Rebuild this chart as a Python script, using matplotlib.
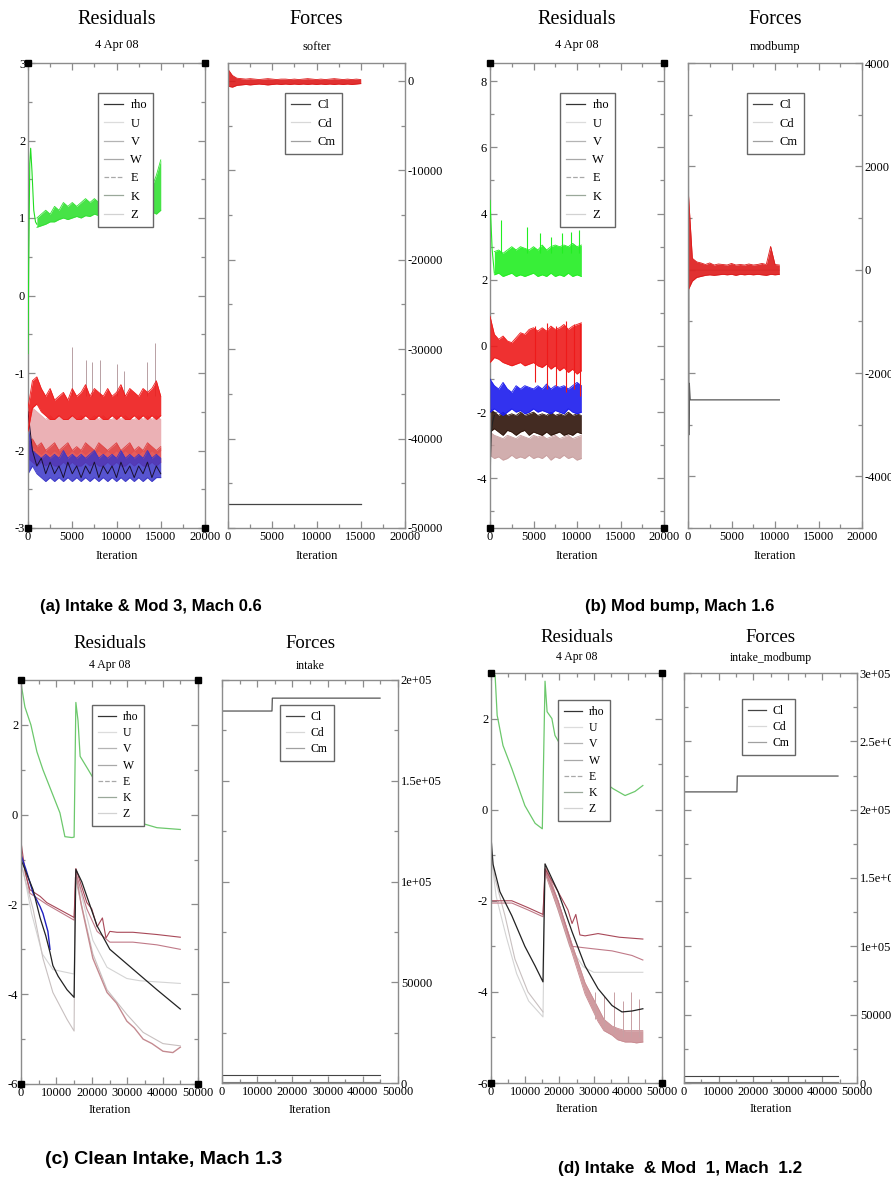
import matplotlib.pyplot as plt
from matplotlib.lines import Line2D
from matplotlib.ticker import MultipleLocator, FuncFormatter

plt.rcParams['font.family'] = ['Liberation Serif', 'DejaVu Serif']
plt.rcParams['axes.unicode_minus'] = False

W, H = 891, 1179

# ---------------- (a) Intake & Mod 3, Mach 0.6 ----------------
a_iter = [0, 500, 1000, 1500, 2000, 2500, 3000, 3500, 4000, 4500,
          5000, 5500, 6000, 6500, 7000, 7500, 8000, 8500, 9000, 9500,
          10000, 10500, 11000, 11500, 12000, 12500, 13000, 13500, 14000, 14500,
          15000]
a_v_hi = [-1.45, -1.1, -1.05, -1.2, -1.3, -1.2, -1.35, -1.3, -1.25, -1.35,
          -1.2, -1.3, -1.25, -1.15, -1.3, -1.2, -1.25, -1.3, -1.2, -1.3,
          -1.25, -1.15, -1.3, -1.2, -1.25, -1.3, -1.2, -1.25, -1.2, -1.1,
          -1.3]
a_v_lo = [-1.75, -1.45, -1.4, -1.5, -1.55, -1.6, -1.6, -1.55, -1.6, -1.6,
          -1.55, -1.6, -1.6, -1.55, -1.6, -1.6, -1.55, -1.6, -1.6, -1.55,
          -1.6, -1.55, -1.6, -1.6, -1.55, -1.6, -1.55, -1.6, -1.55, -1.6,
          -1.55]
a_u_hi = [-1.65, -1.45, -1.5, -1.55, -1.6, -1.55, -1.6, -1.55, -1.6, -1.6,
          -1.55, -1.6, -1.55, -1.6, -1.6, -1.55, -1.6, -1.55, -1.6, -1.6,
          -1.55, -1.6, -1.55, -1.6, -1.6, -1.55, -1.6, -1.55, -1.6, -1.55,
          -1.6]
a_u_lo = [-2.0, -1.95, -2.0, -2.05, -2.0, -2.05, -2.0, -2.05, -2.0, -2.05,
          -2.0, -2.05, -2.0, -2.05, -2.0, -2.05, -2.0, -2.05, -2.0, -2.05,
          -2.0, -2.05, -2.0, -2.05, -2.0, -2.05, -2.0, -2.05, -2.0, -2.05,
          -2.0]
a_e_hi = [-1.9, -1.85, -1.95, -1.9, -2.0, -1.95, -1.9, -2.0, -1.95, -1.9,
          -2.0, -1.95, -2.0, -1.9, -1.95, -2.0, -1.9, -1.95, -2.0, -1.95,
          -1.9, -2.0, -1.95, -1.9, -2.0, -1.95, -2.0, -1.9, -1.95, -2.0,
          -1.95]
a_e_lo = [-2.1, -2.15, -2.2, -2.15, -2.2, -2.15, -2.2, -2.2, -2.15, -2.2,
          -2.15, -2.2, -2.2, -2.15, -2.2, -2.15, -2.2, -2.2, -2.15, -2.2,
          -2.15, -2.2, -2.2, -2.15, -2.2, -2.15, -2.2, -2.2, -2.15, -2.2,
          -2.15]
a_w_hi = [-1.7, -2.0, -2.05, -2.1, -2.05, -2.1, -2.05, -2.1, -2.0, -2.1,
          -2.05, -2.1, -2.05, -2.1, -2.05, -2.0, -2.1, -2.05, -2.1, -2.05,
          -2.1, -2.0, -2.1, -2.05, -2.1, -2.05, -2.1, -2.0, -2.1, -2.05,
          -2.1]
a_w_lo = [-2.3, -2.2, -2.3, -2.35, -2.4, -2.35, -2.4, -2.35, -2.4, -2.35,
          -2.4, -2.35, -2.4, -2.35, -2.4, -2.35, -2.4, -2.35, -2.4, -2.35,
          -2.4, -2.35, -2.4, -2.35, -2.4, -2.35, -2.4, -2.35, -2.4, -2.35,
          -2.35]
a_rho = [-1.5, -2.0, -2.2, -2.1, -2.3, -2.15, -2.3, -2.2, -2.35, -2.15,
         -2.3, -2.2, -2.35, -2.2, -2.3, -2.15, -2.35, -2.2, -2.3, -2.2,
         -2.35, -2.15, -2.3, -2.2, -2.35, -2.2, -2.3, -2.15, -2.35, -2.2,
         -2.3]
a_z_spike_iter = [4970, 6550, 7230, 8140, 10050, 10850, 13450, 14350]
a_z_spike_base = [-1.3, -1.3, -1.3, -1.3, -1.3, -1.3, -1.3, -1.3]
a_z_spike_top = [-0.67, -0.83, -0.86, -0.83, -0.89, -0.98, -0.86, -0.61]
a_k_start_iter = [0, 80, 200, 300, 450, 650, 850, 1000]
a_k_start = [-0.75, 0.4, 1.7, 1.9, 1.6, 1.1, 0.95, 0.92]
a_k_hi = [1.0, 1.05, 1.1, 1.05, 1.15, 1.1, 1.2, 1.15, 1.2, 1.15,
          1.2, 1.25, 1.2, 1.25, 1.2, 1.25, 1.3, 1.2, 1.25, 1.3,
          1.25, 1.3, 1.25, 1.3, 1.3, 1.35, 1.4, 1.55, 1.75]
a_k_lo = [0.88, 0.9, 0.92, 0.95, 0.95, 0.98, 1.0, 0.98, 1.0, 1.02,
          1.0, 1.03, 1.02, 1.05, 1.03, 1.05, 1.05, 1.05, 1.07, 1.05,
          1.08, 1.05, 1.08, 1.1, 1.08, 1.1, 1.08, 1.05, 1.1]
a_cm_hi = [1300, 600, 300, 250, 200, 250, 200, 150, 200, 250,
           200, 150, 200, 200, 150, 200, 150, 200, 250, 200,
           150, 200, 150, 200, 250, 200, 150, 200, 150, 200,
           150]
a_cm_lo = [-600, -700, -500, -450, -400, -450, -400, -350, -400, -450,
           -400, -350, -400, -350, -400, -350, -400, -350, -400, -350,
           -400, -350, -400, -350, -400, -350, -400, -350, -400, -350,
           -300]
a_cl_iter = [0, 15000]
a_cl = [-47300, -47300]

# ---------------- (b) Mod bump, Mach 1.6 ----------------
b_iter = [0, 500, 1000, 1500, 2000, 2500, 3000, 3500, 4000, 4500,
          5000, 5500, 6000, 6500, 7000, 7500, 8000, 8500, 9000, 9500,
          10000, 10500]
b_k_start_iter = [0, 100, 250, 500]
b_k_start = [4.4, 3.8, 2.9, 2.2]
b_k_hi = [2.85, 2.9, 2.8, 2.9, 3.0, 2.9, 3.0, 2.95, 2.9, 3.0,
          2.9, 3.05, 2.9, 3.0, 3.05, 3.0, 3.05, 3.0, 3.1, 3.0,
          3.05]
b_k_lo = [2.15, 2.2, 2.1, 2.15, 2.2, 2.1, 2.15, 2.1, 2.15, 2.2,
          2.1, 2.15, 2.1, 2.2, 2.1, 2.15, 2.1, 2.2, 2.1, 2.15,
          2.1]
b_k_spike_iter = [1300, 4300, 5800, 7000, 8300, 9300, 10200]
b_k_spike_top = [3.8, 3.6, 3.4, 3.3, 3.4, 3.45, 3.5]
b_k_spike_base = [2.8, 2.8, 2.8, 2.8, 2.8, 2.8, 2.8]
b_v_hi = [0.9, 0.35, 0.2, 0.3, 0.15, 0.1, 0.25, 0.4, 0.35, 0.5,
          0.55, 0.45, 0.55, 0.45, 0.6, 0.5, 0.55, 0.65, 0.5, 0.6,
          0.65, 0.7]
b_v_lo = [-0.5, -0.35, -0.4, -0.5, -0.55, -0.6, -0.55, -0.5, -0.6, -0.55,
          -0.5, -0.6, -0.65, -0.55, -0.7, -0.6, -0.75, -0.65, -0.8, -0.7,
          -0.85, -0.75]
b_v_spike_iter = [5200, 6600, 7600, 8700, 9600, 10400]
b_v_spike_low = [-1.1, -1.3, -1.2, -1.4, -1.3, -1.5]
b_v_spike_high = [0.6, 0.7, 0.6, 0.75, 0.65, 0.7]
b_w_hi = [-1.0, -1.2, -1.3, -1.1, -1.3, -1.4, -1.2, -1.3, -1.2, -1.25,
          -1.3, -1.2, -1.3, -1.15, -1.3, -1.2, -1.25, -1.2, -1.3, -1.2,
          -1.1, -1.2]
b_w_lo = [-2.0, -1.9, -2.0, -2.1, -2.0, -1.9, -2.0, -1.95, -2.05, -2.0,
          -1.9, -2.0, -1.95, -2.0, -2.05, -1.95, -2.0, -2.05, -1.9, -2.0,
          -2.05, -2.0]
b_rho_hi = [-1.9, -2.0, -2.1, -2.0, -2.1, -2.05, -2.1, -2.0, -2.1, -2.05,
            -2.0, -2.1, -2.05, -2.1, -2.0, -2.1, -2.05, -2.1, -2.0, -2.1,
            -2.05, -2.1]
b_rho_lo = [-2.6, -2.5, -2.6, -2.7, -2.55, -2.6, -2.7, -2.6, -2.55, -2.7,
            -2.6, -2.65, -2.7, -2.6, -2.7, -2.65, -2.6, -2.7, -2.65, -2.7,
            -2.6, -2.65]
b_rho_start_iter = [0, 60, 150, 300, 500]
b_rho_start = [-4.9, -3.4, -2.6, -2.3, -2.1]
b_e_hi = [-2.6, -2.7, -2.75, -2.8, -2.7, -2.75, -2.8, -2.7, -2.75, -2.8,
          -2.7, -2.75, -2.7, -2.8, -2.75, -2.7, -2.8, -2.75, -2.7, -2.8,
          -2.75, -2.7]
b_e_lo = [-3.3, -3.4, -3.35, -3.45, -3.4, -3.3, -3.4, -3.35, -3.4, -3.3,
          -3.4, -3.35, -3.4, -3.3, -3.45, -3.35, -3.4, -3.3, -3.4, -3.35,
          -3.45, -3.4]
b_cm_hi = [1600, 220, 150, 130, 100, 130, 90, 110, 100, 90,
           120, 90, 100, 90, 110, 90, 100, 120, 100, 450,
           100, 90]
b_cm_lo = [-400, -220, -150, -130, -110, -100, -110, -100, -90, -100,
           -90, -110, -90, -100, -90, -100, -90, -100, -110, -90,
           -100, -90]
b_cl_iter = [0, 40, 90, 150, 250, 10500]
b_cl = [-4950, 3300, -3200, -2200, -2520, -2520]
b_cd_iter = [0, 60, 120, 10500]
b_cd = [3000, -4950, -10, -10]

# ---------------- (c) Clean Intake, Mach 1.3 ----------------
c_k_iter = [0, 1100, 2800, 4500, 6200, 8200, 11000, 12400, 14400, 15000,
            15500, 16100, 16700, 19000, 22000, 29400, 33600, 38400, 45000]
c_k = [2.93, 2.4, 2.0, 1.4, 1.0, 0.6, 0.04, -0.49, -0.51, -0.5,
       2.5, 2.1, 1.3, 1.0, 0.6, 0.0, -0.18, -0.29, -0.33]
c_rho_iter = [0, 3400, 5400, 7000, 8200, 9000, 10500, 13000, 15000,
              15500, 17200, 21500, 25100, 31600, 38400, 45000]
c_rho = [-1.0, -1.67, -2.3, -2.7, -3.07, -3.36, -3.6, -3.9, -4.07,
         -1.22, -1.5, -2.48, -3.0, -3.44, -3.9, -4.33]
c_u_iter = [0, 3400, 6200, 9000, 13000, 15000, 15300, 20300, 24300, 29900,
            34500, 40100, 45000]
c_u = [-1.1, -2.1, -3.2, -3.96, -4.56, -4.82, -1.4, -3.1, -3.9, -4.45,
       -4.85, -5.1, -5.15]
c_e_iter = [15500, 17000, 20300, 24300, 27000, 29900, 32000, 34500, 37000, 40100,
            42900, 45000]
c_e = [-1.3, -2.0, -3.2, -3.96, -4.2, -4.6, -4.75, -5.0, -5.1, -5.27,
       -5.3, -5.18]
c_v_iter = [0, 1200, 2500, 5400, 7300, 15000, 15500, 18600, 20000, 21500,
            23000, 24000, 25100, 27100, 31600, 38400, 45000]
c_v = [-0.6, -1.3, -1.67, -1.82, -1.96, -2.29, -1.2, -1.96, -2.1, -2.5,
       -2.3, -2.75, -2.6, -2.62, -2.62, -2.67, -2.73]
c_v2_iter = [0, 2500, 5400, 7300, 15000, 15500, 18600, 21500, 25100, 31600,
             38400, 45000]
c_v2 = [-0.8, -1.75, -1.9, -2.0, -2.35, -1.3, -2.1, -2.6, -2.84, -2.84,
        -2.9, -3.0]
c_w_iter = [0, 1400, 3400, 5400, 6200, 7600, 8200]
c_w = [-0.9, -1.22, -1.74, -2.05, -2.2, -2.6, -3.0]
c_z_iter = [0, 3000, 6000, 9000, 12000, 15000, 15500, 20300, 24300, 29900,
            33600, 45000]
c_z = [-1.0, -2.2, -3.1, -3.45, -3.5, -3.55, -1.3, -2.8, -3.4, -3.65,
       -3.7, -3.76]
c_cl_iter = [0, 100, 14200, 14300, 44900]
c_cl = [192700, 184600, 184600, 191000, 191000]
c_cd_iter = [0, 45000]
c_cd = [3970, 3970]
c_cm_iter = [0, 45000]
c_cm = [300, 300]

# ---------------- (d) Intake & Mod 1, Mach 1.2 ----------------
d_k_iter = [0, 1200, 1800, 2000, 3500, 6100, 9900, 12900, 15000, 15800,
            16400, 17800, 18700, 22000, 35700, 39200, 42100, 44400]
d_k = [2.93, 2.95, 2.07, 2.0, 1.41, 0.9, 0.09, -0.3, -0.42, 2.82,
       2.15, 2.0, 1.63, 1.2, 0.46, 0.31, 0.4, 0.53]
d_rho_iter = [0, 600, 2600, 6100, 9900, 12900, 15200, 15800, 19600, 23700,
              27500, 31300, 35400, 38300, 41200, 44400]
d_rho = [-0.6, -1.2, -1.8, -2.33, -3.0, -3.43, -3.78, -1.19, -1.8, -2.68,
         -3.43, -3.93, -4.3, -4.44, -4.42, -4.37]
d_u_iter = [0, 1200, 4100, 7000, 10800, 15200]
d_u = [-0.9, -1.52, -2.33, -3.28, -4.0, -4.44]
d_z_iter = [0, 1500, 4500, 7500, 11000, 15200, 15800, 19600, 23000, 27000,
            30000, 44400]
d_z = [-1.0, -1.9, -2.8, -3.6, -4.2, -4.55, -1.3, -2.2, -3.0, -3.45,
       -3.57, -3.57]
d_v_iter = [0, 6100, 10800, 15200, 15800, 19600, 22500, 23700, 24800, 26000,
            27500, 31300, 37500, 44400]
d_v = [-2.0, -2.0, -2.15, -2.3, -1.3, -1.8, -2.2, -2.5, -2.3, -2.75,
       -2.77, -2.72, -2.8, -2.84]
d_v2_iter = [0, 6100, 10800, 15200, 15800, 19600, 23700, 29400, 35400, 41200,
             44400]
d_v2 = [-2.05, -2.05, -2.2, -2.35, -1.35, -2.0, -3.0, -3.05, -3.1, -3.2,
        -3.3]
d_e_iter = [15800, 19600, 23700, 27500, 31300, 33000, 35400, 37000, 39200, 41000,
            42500, 44400]
d_e_hi = [-1.2, -2.0, -2.95, -3.8, -4.35, -4.6, -4.75, -4.8, -4.85, -4.85,
          -4.85, -4.85]
d_e_lo = [-1.4, -2.2, -3.15, -4.05, -4.65, -4.85, -4.95, -5.05, -5.1, -5.1,
          -5.12, -5.1]
d_e_spike_iter = [30500, 33000, 36000, 38500, 41000, 43200]
d_e_spike_top = [-4.0, -4.1, -4.0, -4.2, -4.0, -4.15]
d_e_spike_base = [-4.6, -4.8, -4.9, -5.0, -5.0, -5.0]
d_cl_iter = [0, 15300, 15400, 44500]
d_cl = [213000, 213000, 224600, 224600]
d_cd_iter = [0, 44500]
d_cd = [5100, 5100]
d_cm_iter = [0, 44500]
d_cm = [600, 600]

res_labels = ['rho', 'U', 'V', 'W', 'E', 'K', 'Z']
force_labels = ['Cl', 'Cd', 'Cm']

fig = plt.figure(figsize=(W / 100, H / 100), dpi=100)


def rect(l, t, r, b):
    return [l / W, 1 - b / H, (r - l) / W, (b - t) / H]


def frame(ax, xmax, xmaj, ylim, ymaj, ymin, right=False, fs=8.5):
    ax.set_xlim(0, xmax)
    ax.set_ylim(*ylim)
    ax.xaxis.set_major_locator(MultipleLocator(xmaj))
    ax.xaxis.set_minor_locator(MultipleLocator(xmaj / 2))
    ax.yaxis.set_major_locator(MultipleLocator(ymaj))
    ax.yaxis.set_minor_locator(MultipleLocator(ymin))
    ax.tick_params(which='both', direction='in', top=True, bottom=True,
                   left=True, right=True, color='#8c8c8c', width=0.9,
                   labelsize=fs, pad=2)
    ax.tick_params(which='major', length=5)
    ax.tick_params(which='minor', length=3)
    if right:
        ax.tick_params(labelleft=False, labelright=True)
    for s in ax.spines.values():
        s.set_color('#8c8c8c')
        s.set_linewidth(1.0)


def corners(ax):
    x0, x1 = ax.get_xlim()
    y0, y1 = ax.get_ylim()
    ax.plot([x0, x1, x0, x1], [y0, y0, y1, y1], 's', color='black', ms=4.5,
            clip_on=False, zorder=6)


def band(ax, x, lo, hi, color, alpha=0.9, z=2):
    ax.fill_between(x, lo, hi, color=color, lw=0, alpha=alpha, zorder=z)
    ax.plot(x, hi, color=color, lw=0.6, zorder=z)
    ax.plot(x, lo, color=color, lw=0.6, zorder=z)


def res_legend(ax, x0, y0, fs, spacing):
    cols = ['#333333', '#dcdcdc', '#b4b4b4', '#a8a8a8', '#a8a8a8', '#9aa89a', '#d2d2d2']
    styles = ['-', '-', '-', '-', '--', '-', '-']
    handles = [Line2D([], [], color=c, lw=0.9, ls=s) for c, s in zip(cols, styles)]
    leg = ax.legend(handles, res_labels, loc='upper left', bbox_to_anchor=(x0, y0),
                    fontsize=fs, fancybox=False, framealpha=1, handlelength=1.5,
                    handletextpad=0.6, labelspacing=spacing, borderpad=0.5,
                    borderaxespad=0)
    leg.get_frame().set_edgecolor('#666666')
    leg.get_frame().set_linewidth(1.0)
    leg.set_zorder(10)


def force_legend(ax, x0, y0, fs, spacing):
    cols = ['#444444', '#d8d8d8', '#a0a0a0']
    handles = [Line2D([], [], color=c, lw=0.9) for c in cols]
    leg = ax.legend(handles, force_labels, loc='upper left', bbox_to_anchor=(x0, y0),
                    fontsize=fs, fancybox=False, framealpha=1, handlelength=1.5,
                    handletextpad=0.6, labelspacing=spacing, borderpad=0.5,
                    borderaxespad=0)
    leg.get_frame().set_edgecolor('#666666')
    leg.get_frame().set_linewidth(1.0)
    leg.set_zorder(10)


def heading(ax, title, sub, y_title, y_sub, fs_title, fs_sub):
    pos = ax.get_position()
    cx = (pos.x0 + pos.x1) / 2
    fig.text(cx, 1 - y_title / H, title, ha='center', va='center', fontsize=fs_title)
    fig.text(cx, 1 - y_sub / H, sub, ha='center', va='center', fontsize=fs_sub)


def xlabel(ax, y, fs):
    pos = ax.get_position()
    fig.text((pos.x0 + pos.x1) / 2, 1 - y / H, 'Iteration', ha='center',
             va='center', fontsize=fs)


def caption(x, y, text, fs):
    fig.text(x / W, 1 - y / H, text, ha='left', va='center', fontsize=fs,
             family=['Liberation Sans', 'DejaVu Sans'], weight='bold')


sci = FuncFormatter(lambda v, p: format(v, '.2g') if v >= 1e5 else '%d' % v)

# ---- (a) residuals ----
ax = fig.add_axes(rect(28, 63, 205, 528))
frame(ax, 20000, 5000, (-3, 3), 1, 0.5, fs=9)
band(ax, a_iter, a_u_lo, a_u_hi, '#e8a4a8', 0.85)
band(ax, a_iter, a_e_lo, a_e_hi, '#e04040', 0.85)
band(ax, a_iter, a_w_lo, a_w_hi, '#3a36c8', 0.85)
ax.plot(a_iter, a_rho, color='#1a1030', lw=0.7, zorder=3)
band(ax, a_iter, a_v_lo, a_v_hi, '#ee1c1c', 0.9, z=3)
ax.vlines(a_z_spike_iter, a_z_spike_base, a_z_spike_top, colors='#b8a0a4', lw=0.7, zorder=2)
ax.plot(a_k_start_iter, a_k_start, color='#22dd22', lw=0.8, zorder=3)
band(ax, a_iter[2:], a_k_lo, a_k_hi, '#33e033', 0.9, z=3)
corners(ax)
res_legend(ax, 0.395, 0.935, 9, 0.5)
heading(ax, 'Residuals', '4 Apr 08', 20, 45, 14.5, 9)
xlabel(ax, 556, 9)

# ---- (a) forces ----
ax = fig.add_axes(rect(228, 63, 405, 528))
frame(ax, 20000, 5000, (-50000, 2000), 10000, 5000, right=True, fs=9)
ax.plot(a_cl_iter, a_cl, color='#444444', lw=0.9)
band(ax, a_iter, a_cm_lo, a_cm_hi, '#dd1a1a', 0.9)
force_legend(ax, 0.322, 0.935, 9, 0.5)
heading(ax, 'Forces', 'softer', 20, 47, 14.5, 9)
xlabel(ax, 556, 9)

# ---- (b) residuals ----
ax = fig.add_axes(rect(490, 63, 664, 528))
frame(ax, 20000, 5000, (-5.5, 8.55), 2, 1, fs=9)
band(ax, b_iter, b_e_lo, b_e_hi, '#c9a0a0', 0.85)
band(ax, b_iter, b_rho_lo, b_rho_hi, '#2e140a', 0.9)
ax.plot(b_rho_start_iter, b_rho_start, color='#222222', lw=0.8)
band(ax, b_iter, b_w_lo, b_w_hi, '#1c1cee', 0.9, z=3)
band(ax, b_iter, b_v_lo, b_v_hi, '#ee1a1a', 0.9, z=3)
ax.vlines(b_v_spike_iter, b_v_spike_low, b_v_spike_high, colors='#ee1a1a', lw=0.8, zorder=3)
ax.plot(b_k_start_iter, b_k_start, color='#22ee22', lw=0.8, zorder=3)
band(ax, b_iter[1:], b_k_lo, b_k_hi, '#22ee22', 0.9, z=3)
ax.vlines(b_k_spike_iter, b_k_spike_base, b_k_spike_top, colors='#22ee22', lw=0.8, zorder=3)
corners(ax)
res_legend(ax, 0.402, 0.935, 9, 0.5)
heading(ax, 'Residuals', '4 Apr 08', 20, 45, 14.5, 9)
xlabel(ax, 556, 9)

# ---- (b) forces ----
ax = fig.add_axes(rect(688, 63, 862, 528))
frame(ax, 20000, 5000, (-5000, 4000), 2000, 1000, right=True, fs=9)
ax.plot(b_cd_iter, b_cd, color='#c0c0c0', lw=0.8)
ax.plot(b_cl_iter, b_cl, color='#555555', lw=0.9)
band(ax, b_iter, b_cm_lo, b_cm_hi, '#dd1a1a', 0.9)
force_legend(ax, 0.339, 0.935, 9, 0.5)
heading(ax, 'Forces', 'modbump', 20, 47, 14.5, 9)
xlabel(ax, 556, 9)

# ---- (c) residuals ----
ax = fig.add_axes(rect(21, 680, 198, 1084))
frame(ax, 50000, 10000, (-6, 3), 2, 1, fs=9)
ax.plot(c_z_iter, c_z, color='#d4d4d4', lw=0.8)
ax.plot(c_u_iter, c_u, color='#c8c0c0', lw=0.8)
ax.plot(c_e_iter, c_e, color='#c48a90', lw=1.0)
ax.plot(c_v2_iter, c_v2, color='#c07a88', lw=0.8)
ax.plot(c_v_iter, c_v, color='#a84858', lw=0.8)
ax.plot(c_w_iter, c_w, color='#2020c0', lw=1.0)
ax.plot(c_rho_iter, c_rho, color='#222222', lw=0.9)
ax.plot(c_k_iter, c_k, color='#6cc86c', lw=0.9)
corners(ax)
res_legend(ax, 0.401, 0.938, 8.5, 0.36)
heading(ax, 'Residuals', '4 Apr 08', 643, 665, 13.5, 8.5)
xlabel(ax, 1110, 9)

# ---- (c) forces ----
ax = fig.add_axes(rect(222, 680, 398, 1083))
frame(ax, 50000, 10000, (0, 200000), 50000, 25000, right=True, fs=9)
ax.yaxis.set_major_formatter(sci)
ax.plot(c_cm_iter, c_cm, color='#777777', lw=0.8)
ax.plot(c_cd_iter, c_cd, color='#444444', lw=0.8)
ax.plot(c_cl_iter, c_cl, color='#555555', lw=0.9)
force_legend(ax, 0.33, 0.938, 8.5, 0.36)
heading(ax, 'Forces', 'intake', 643, 666, 13.5, 8.5)
xlabel(ax, 1110, 9)

# ---- (d) residuals ----
ax = fig.add_axes(rect(491, 673, 662, 1083))
frame(ax, 50000, 10000, (-6, 3), 2, 1, fs=9)
ax.plot(d_z_iter, d_z, color='#d4d4d4', lw=0.8)
ax.plot(d_u_iter, d_u, color='#c8c0c0', lw=0.8)
band(ax, d_e_iter, d_e_lo, d_e_hi, '#c88a90', 0.85)
ax.vlines(d_e_spike_iter, d_e_spike_base, d_e_spike_top, colors='#c8a0a4', lw=0.7)
ax.plot(d_v2_iter, d_v2, color='#c07a88', lw=0.8)
ax.plot(d_v_iter, d_v, color='#a84858', lw=0.8)
ax.plot(d_rho_iter, d_rho, color='#222222', lw=0.9)
ax.plot(d_k_iter, d_k, color='#6cc86c', lw=0.9)
corners(ax)
res_legend(ax, 0.392, 0.934, 8.5, 0.36)
heading(ax, 'Residuals', '4 Apr 08', 637, 657, 13.5, 8.5)
xlabel(ax, 1109, 9)

# ---- (d) forces ----
ax = fig.add_axes(rect(684, 673, 857, 1083))
frame(ax, 50000, 10000, (0, 300000), 50000, 25000, right=True, fs=9)
ax.yaxis.set_major_formatter(sci)
ax.plot(d_cm_iter, d_cm, color='#777777', lw=0.8)
ax.plot(d_cd_iter, d_cd, color='#444444', lw=0.8)
ax.plot(d_cl_iter, d_cl, color='#555555', lw=0.9)
force_legend(ax, 0.335, 0.937, 8.5, 0.36)
heading(ax, 'Forces', 'intake_modbump', 637, 658, 13.5, 8.5)
xlabel(ax, 1109, 9)

caption(40, 606, '(a) Intake & Mod 3, Mach 0.6', 12)
caption(585, 606, '(b) Mod bump, Mach 1.6', 12)
caption(45, 1160, '(c) Clean Intake, Mach 1.3', 14)
caption(558, 1168, '(d) Intake  & Mod  1, Mach  1.2', 12.3)

fig.savefig('out.png', dpi=100)
